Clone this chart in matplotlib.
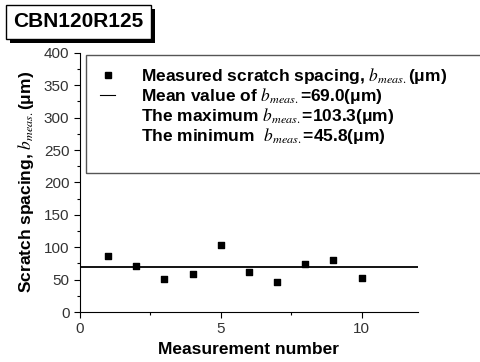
import matplotlib
matplotlib.use("Agg")
import matplotlib.pyplot as plt
import matplotlib.patheffects as pe
from matplotlib.lines import Line2D
from matplotlib.patches import Rectangle
from matplotlib.ticker import MultipleLocator

plt.rcParams['font.family'] = ['Liberation Sans', 'DejaVu Sans']
plt.rcParams['mathtext.fontset'] = 'stix'

# measured scratch spacing per measurement (um)
measurement = [1, 2, 3, 4, 5, 6, 7, 8, 9, 10]
spacing = [87, 71, 51, 58, 103.3, 61.5, 45.8, 74.3, 81, 52.8]
mean_value = 69.0
max_value = 103.3
min_value = 45.8

fig = plt.figure(figsize=(4.81, 3.62), dpi=100)
ax = fig.add_axes([0.166, 0.138, 0.703, 0.716])

ax.scatter(measurement, spacing, marker='s', s=14, color='black', zorder=3)
ax.axhline(mean_value, color='black', lw=1.3)

ax.set_xlim(0, 12)
ax.set_ylim(0, 400)
ax.xaxis.set_major_locator(MultipleLocator(5))
ax.xaxis.set_minor_locator(MultipleLocator(2.5))
ax.yaxis.set_major_locator(MultipleLocator(50))
ax.yaxis.set_minor_locator(MultipleLocator(25))
ax.tick_params(which='major', direction='out', length=4, width=0.8, labelsize=11,
               labelcolor='#333333')
ax.tick_params(which='minor', direction='out', length=2, width=0.8)
for s in ['top', 'right']:
    ax.spines[s].set_visible(False)

ax.set_xlabel('Measurement number', fontsize=12.5, fontweight='bold', labelpad=4)
ax.set_ylabel(r'Scratch spacing, $b_{meas.}$(μm)', fontsize=12.5, fontweight='bold',
              labelpad=6)

# legend (frame drawn separately so it runs off the right edge like the original)
empty = Line2D([], [], lw=0, marker=None)
handles = [Line2D([], [], lw=0, marker='s', ms=4, color='black'),
           Line2D([], [], lw=0.8, color='black'),
           empty, empty]
labels = [r'Measured scratch spacing, $b_{meas.}$(μm)',
          r'Mean value of $b_{meas.}$=%.1f(μm)' % mean_value,
          r'The maximum $b_{meas.}$=%.1f(μm)' % max_value,
          r'The minimum  $b_{meas.}$=%.1f(μm)' % min_value]
leg = ax.legend(handles, labels, loc='upper left', bbox_to_anchor=(0.059, 0.95),
                frameon=False, prop={'weight': 'bold', 'size': 12.5},
                handlelength=0.9, handletextpad=1.5, labelspacing=0.0,
                borderpad=0, borderaxespad=0)
ax.add_patch(Rectangle((0.018, 0.537), 1.4, 0.455, transform=ax.transAxes,
                       fill=False, ec='#555555', lw=1.0, clip_on=False))

# sample name box with shadow
t = fig.text(0.163, 0.94, 'CBN120R125', fontsize=15, fontweight='bold',
             ha='center', va='center',
             bbox=dict(boxstyle='square,pad=0.35', fc='white', ec='black', lw=1.0))
t.get_bbox_patch().set_path_effects([
    pe.SimplePatchShadow(offset=(3, -3), shadow_rgbFace='black', alpha=1.0),
    pe.Normal()])

fig.savefig('out.png', dpi=100)
